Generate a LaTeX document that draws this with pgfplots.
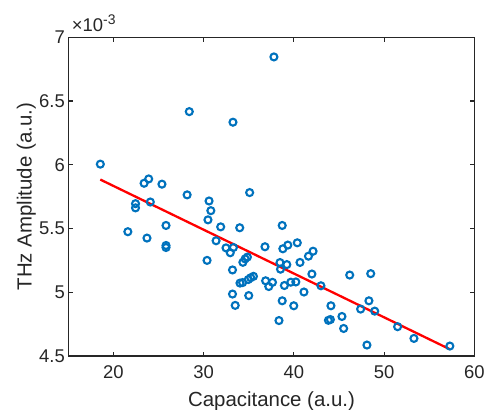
\documentclass[border=0pt]{standalone}
\usepackage{fontspec}
\setmainfont{Liberation Sans}
\usepackage{pgfplots}
\pgfplotsset{compat=1.18}
\definecolor{mblue}{RGB}{0,114,189}
\definecolor{axgray}{RGB}{38,38,38}
\begin{document}
\begin{tikzpicture}
\useasboundingbox (-68.3bp,-54bp) rectangle (417.7bp,356bp);
\begin{axis}[
  at={(0,0)}, anchor=south west, scale only axis,
  width=406bp, height=318.7bp,
  xmin=15, xmax=60, ymin=4.5, ymax=7,
  xtick={20,30,40,50,60}, xticklabels={20,30,40,50,60},
  ytick={4.5,5,5.5,6,6.5,7}, yticklabels={4.5,5,5.5,6,6.5,7},
  xtick pos=both, ytick pos=both,
  xticklabel pos=left, yticklabel pos=left,
  tick align=inside, major tick length=4.5bp,
  axis line style={axgray, line width=1.1bp},
  every tick/.style={axgray, line width=1.1bp},
  tick label style={font=\fontsize{18.5}{20}\selectfont, text=axgray},
  xticklabel style={yshift=-6bp},
  label style={font=\fontsize{20.5}{22}\selectfont, text=axgray},
  xlabel={Capacitance (a.u.)},
  ylabel={THz Amplitude (a.u.)},
  xlabel style={at={(axis description cs:0.5005,-0.1575)}, anchor=base},
  ylabel style={at={(axis description cs:-0.0901,0.5)}, anchor=base},
  clip=false,
]
\addplot[only marks, mark=o, mark size=3.5bp, mark options={draw=mblue, line width=2.1bp}] coordinates {
(18.55,6.005) (23.91,5.889) (23.40,5.855) (25.38,5.848) (28.17,5.764)
(22.45,5.695) (22.45,5.662) (24.09,5.708) (25.83,5.524) (21.60,5.475)
(23.72,5.425) (25.83,5.367) (25.83,5.351) (28.41,6.417) (33.25,6.334)
(37.79,6.846) (35.10,5.782) (30.60,5.716) (30.80,5.640) (30.48,5.568)
(31.89,5.513) (34.00,5.506) (38.71,5.524) (31.38,5.404) (32.48,5.348)
(33.30,5.351) (32.95,5.310) (36.80,5.357) (38.78,5.341) (39.33,5.370)
(40.38,5.388) (34.85,5.276) (34.60,5.262) (34.35,5.235) (30.38,5.250)
(33.20,5.175) (35.52,5.125) (35.22,5.114) (34.95,5.100) (34.32,5.076)
(34.03,5.072) (36.87,5.090) (37.22,5.045) (37.63,5.078) (38.46,5.233)
(39.22,5.217) (38.52,5.181) (38.95,5.053) (39.66,5.079) (40.22,5.081)
(40.68,5.234) (41.62,5.283) (42.13,5.322) (42.00,5.143) (41.12,5.002)
(43.00,5.051) (46.19,5.135) (48.52,5.146) (33.20,4.986) (35.00,4.974)
(33.50,4.897) (38.71,4.933) (39.99,4.894) (38.35,4.778) (44.11,4.894)
(48.32,4.933) (47.40,4.868) (48.96,4.852) (45.33,4.810) (43.83,4.780)
(44.05,4.786) (45.52,4.716) (51.50,4.730) (53.31,4.638) (48.10,4.586)
(57.29,4.578)
};
\addplot[red, line width=2.3bp] coordinates {(18.55,5.884) (57.29,4.553)};
\end{axis}
\node[anchor=base west, inner sep=0pt, text=axgray, font=\fontsize{18.5}{20}\selectfont] at (3.4bp,324.3bp) {×10\raisebox{7bp}{\fontsize{14}{14}\selectfont -3}};
\end{tikzpicture}
\end{document}
